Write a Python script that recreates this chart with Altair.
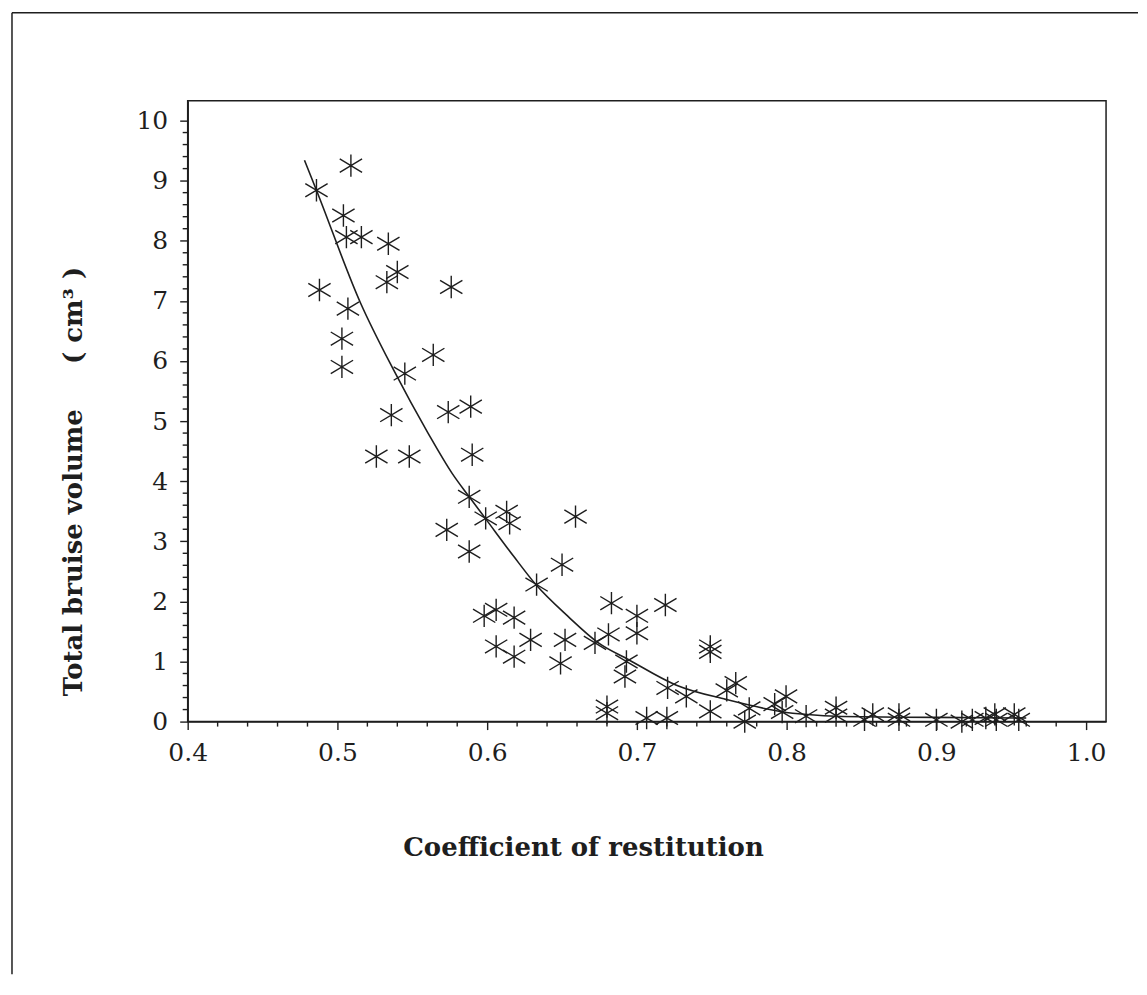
import altair as alt
import pandas as pd

# Scatter data
restitution = [0.509, 0.486, 0.504, 0.506, 0.516, 0.534, 0.540, 0.533, 0.488, 0.576,
               0.507, 0.503, 0.503, 0.564, 0.545, 0.536, 0.574, 0.589, 0.526, 0.548,
               0.590, 0.588, 0.599, 0.613, 0.615, 0.659, 0.573, 0.588, 0.650, 0.633,
               0.683, 0.700, 0.719, 0.606, 0.598, 0.618, 0.606, 0.618, 0.629, 0.652,
               0.649, 0.672, 0.681, 0.700, 0.680, 0.680, 0.693, 0.692, 0.7065, 0.720,
               0.7205, 0.733, 0.749, 0.749, 0.749, 0.760, 0.766, 0.772, 0.775, 0.792,
               0.7996, 0.797, 0.813, 0.833, 0.833, 0.852, 0.8575, 0.875, 0.875, 0.900,
               0.917, 0.924, 0.933, 0.939, 0.940, 0.952, 0.955]
bruise = [9.25, 8.84, 8.42, 8.06, 8.06, 7.95, 7.48, 7.31, 7.18, 7.23,
          6.87, 6.37, 5.90, 6.10, 5.79, 5.10, 5.15, 5.24, 4.41, 4.41,
          4.44, 3.74, 3.38, 3.49, 3.30, 3.41, 3.19, 2.83, 2.61, 2.28,
          1.97, 1.76, 1.94, 1.86, 1.76, 1.73, 1.25, 1.08, 1.36, 1.36,
          0.97, 1.31, 1.45, 1.47, 0.25, 0.14, 1.00, 0.75, 0.06, 0.06,
          0.56, 0.42, 0.17, 1.25, 1.16, 0.52, 0.64, 0.00, 0.22, 0.29,
          0.42, 0.16, 0.09, 0.23, 0.10, 0.03, 0.12, 0.12, 0.03, 0.03,
          0.00, 0.03, 0.06, 0.12, 0.03, 0.12, 0.03]

# Fitted curve, points
fit_x = [0.478, 0.486, 0.5155, 0.5375, 0.5605, 0.5766, 0.588, 0.5994, 0.6177, 0.6325,
         0.654, 0.6743, 0.6945, 0.726, 0.7593, 0.804, 0.85, 0.90, 0.96]
fit_y = [9.34, 8.84, 6.96, 5.85, 4.80, 4.13, 3.74, 3.36, 2.75, 2.28,
         1.75, 1.31, 1.03, 0.61, 0.37, 0.14, 0.08, 0.07, 0.06]

# Tick positions
x_major = [0.4, 0.5, 0.6, 0.7, 0.8, 0.9, 1.0]
y_major = [0, 1, 2, 3, 4, 5, 6, 7, 8, 9, 10]
x_minor = [round(0.4 + 0.02 * i, 2) for i in range(31) if i % 5 != 0]
y_minor = [round(0.2 * i, 1) for i in range(51) if i % 5 != 0]

INK = "#1e1e1e"
SERIF = "DejaVu Serif"
W, H = 920, 622

pts = pd.DataFrame({"cor": restitution, "vol": bruise})
fit = pd.DataFrame({"cor": fit_x, "vol": fit_y})

x_scale = alt.Scale(domain=[0.4, 1.0133], nice=False, zero=False)
y_scale = alt.Scale(domain=[0, 10.33], nice=False, zero=False)

x_axis = alt.Axis(
    values=x_major, format=".1f", tickSize=8,
    labelOverlap=False, labelFlush=False,
    labelFont=SERIF, labelFontSize=25, labelColor=INK, labelPadding=11,
    title="Coefficient of restitution",
    titleFont=SERIF, titleFontSize=26, titleFontWeight="bold", titleColor=INK,
    titleX=396, titleY=126, titleBaseline="middle", titleAlign="center",
    grid=False,
)
y_axis = alt.Axis(
    values=y_major, format="d", tickSize=8,
    labelOverlap=False, labelFlush=False,
    labelFont=SERIF, labelFontSize=25, labelColor=INK, labelPadding=12,
    title="Total bruise volume\u00a0\u00a0\u00a0\u00a0\u00a0(\u00a0cm\u00b3\u00a0)",
    titleFont=SERIF, titleFontSize=26, titleFontWeight="bold", titleColor=INK,
    titleX=-114, titleY=381, titleBaseline="middle", titleAlign="center", titleAngle=270,
    grid=False,
)

X = alt.X("cor:Q", scale=x_scale, axis=x_axis)
Y = alt.Y("vol:Q", scale=y_scale, axis=y_axis)

asterisk = "M0,-1L0,1M-1,-0.6L1,0.6M-1,0.6L1,-0.6"

scatter = alt.Chart(pts).mark_point(
    shape=asterisk, filled=False, size=500, stroke=INK, strokeWidth=1.4, opacity=1
).encode(x=X, y=Y)

curve = alt.Chart(fit).mark_line(
    color=INK, strokeWidth=1.6, interpolate="monotone"
).encode(x=X, y=Y)

# minor ticks, positioned through the scales
x_minor_ticks = alt.Chart(pd.DataFrame({"cor": x_minor})).mark_rule(
    color=INK, strokeWidth=1.4
).encode(x=X, y=alt.value(H), y2=alt.value(H + 5))

y_minor_ticks = alt.Chart(pd.DataFrame({"vol": y_minor})).mark_rule(
    color=INK, strokeWidth=1.4
).encode(y=Y, x=alt.value(0), x2=alt.value(-5))

# outer figure frame
one = pd.DataFrame({"k": [0]})
frame_top = alt.Chart(one).mark_rule(color=INK, strokeWidth=1.5).encode(
    x=alt.value(-176), x2=alt.value(952), y=alt.value(-88)
)
frame_left = alt.Chart(one).mark_rule(color=INK, strokeWidth=1.5).encode(
    x=alt.value(-176), y=alt.value(-88), y2=alt.value(875)
)

chart = alt.layer(
    scatter, curve, x_minor_ticks, y_minor_ticks, frame_top, frame_left
).properties(
    width=W, height=H,
    padding={"left": 3, "top": 3, "right": 0, "bottom": 0},
    background="white",
).configure_view(
    stroke=INK, strokeWidth=1.5
).configure_axis(
    domainColor=INK, domainWidth=1.5, tickColor=INK, tickWidth=1.4
)

chart.save("out.html", embed_options={"renderer": "svg", "actions": False})
